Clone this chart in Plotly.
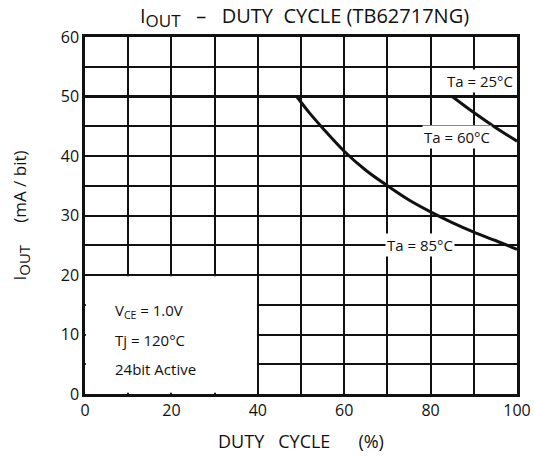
import plotly.graph_objects as go

# Data
x_25 = [0, 100]
y_25 = [50, 50]

x_60 = [85, 90, 95, 100]
y_60 = [50, 47.3, 44.8, 42.5]

x_85 = [49, 52, 55, 60, 65, 70, 75, 80, 85, 90, 95, 100]
y_85 = [50, 47.2, 44.7, 40.8, 37.6, 35.0, 32.6, 30.6, 28.8, 27.2, 25.8, 24.3]

x_ticks = [0, 20, 40, 60, 80, 100]
y_ticks = [0, 10, 20, 30, 40, 50, 60]

FONT = "Open Sans"
BLACK = "#111111"
NB = "\u00a0"

fig = go.Figure()
fig.add_trace(go.Scatter(x=x_25, y=y_25, mode="lines", line=dict(color=BLACK, width=3), showlegend=False))
fig.add_trace(go.Scatter(x=x_60, y=y_60, mode="lines", line=dict(color=BLACK, width=3, shape="spline"), showlegend=False))
fig.add_trace(go.Scatter(x=x_85, y=y_85, mode="lines", line=dict(color=BLACK, width=3, shape="spline"), showlegend=False))

# blank box area (no grid) for condition text
fig.add_shape(type="rect", xref="x", yref="y", x0=0.2, x1=39.8, y0=0.2, y1=19.8,
              fillcolor="white", line=dict(width=0), layer="between")

ann_font = dict(family=FONT, size=15, color=BLACK)
fig.add_annotation(x=99.5, y=52.6, text="Ta = 25°C", showarrow=False, xanchor="right",
                   font=ann_font, bgcolor="white")
fig.add_annotation(x=86, y=43.2, text="Ta = 60°C", showarrow=False,
                   font=ann_font, bgcolor="white")
fig.add_annotation(x=77.5, y=25, text="Ta = 85°C", showarrow=False,
                   font=ann_font, bgcolor="white")

fig.add_annotation(x=6.5, y=14, text="V<sub>CE</sub> = 1.0V", showarrow=False, xanchor="left",
                   font=ann_font)
fig.add_annotation(x=6.5, y=9, text="Tj = 120°C", showarrow=False, xanchor="left",
                   font=ann_font)
fig.add_annotation(x=6.5, y=4.2, text="24bit Active", showarrow=False, xanchor="left",
                   font=ann_font)

# title as a paper annotation for precise placement
fig.add_annotation(xref="paper", yref="paper", x=(138 - 85) / 432, y=1 + 20 / 357,
                   xanchor="left", yanchor="middle", showarrow=False,
                   text=f"I<sub><span style='font-size:17px'>OUT</span></sub>{NB}{NB} –{NB}{NB} DUTY{NB} CYCLE (TB62717NG)",
                   font=dict(family=FONT, size=20, color=BLACK))

fig.update_layout(
    width=534, height=457, autosize=False,
    margin=dict(l=85, r=17, t=37, b=63, autoexpand=False),
    plot_bgcolor="white", paper_bgcolor="white",
    font=dict(family=FONT, size=15, color=BLACK),
    xaxis=dict(range=[0, 100], tickvals=x_ticks, showgrid=True,
               gridcolor=BLACK, gridwidth=1.6,
               minor=dict(dtick=10, showgrid=True, gridcolor=BLACK, gridwidth=1.6),
               showline=True, linecolor=BLACK, linewidth=2.5, mirror=True,
               ticks="", zeroline=False, fixedrange=True, automargin=False,
               tickfont=dict(family=FONT, size=16, color=BLACK),
               title=dict(text=f"DUTY{NB}{NB} CYCLE{NB}{NB}{NB}{NB}{NB} (%)", standoff=16,
                          font=dict(family=FONT, size=18, color=BLACK))),
    yaxis=dict(range=[0, 60], tickvals=y_ticks, showgrid=True,
               gridcolor=BLACK, gridwidth=1.6,
               minor=dict(dtick=5, showgrid=True, gridcolor=BLACK, gridwidth=1.6),
               showline=True, linecolor=BLACK, linewidth=2.5, mirror=True,
               ticks="", zeroline=False, fixedrange=True, automargin=False,
               tickfont=dict(family=FONT, size=16, color=BLACK),
               title=dict(text=f"I<sub><span style='font-size:15px'>OUT</span></sub>{NB}{NB}{NB}{NB} (mA / bit)", standoff=30,
                          font=dict(family=FONT, size=17, color=BLACK))),
)

fig.write_html("out.html", config={"displayModeBar": False},
               post_script="document.body.style.margin='0';document.body.style.overflow='hidden';")
